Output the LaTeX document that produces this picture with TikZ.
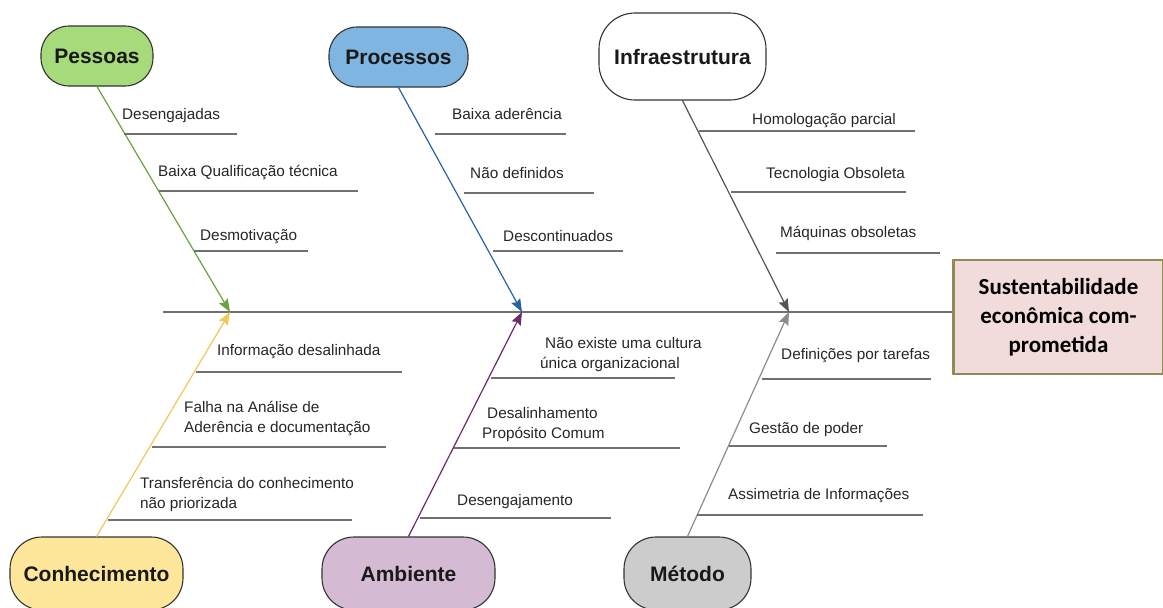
\documentclass[tikz,border=0pt]{standalone}
\usepackage{fontspec}
\setmainfont{Liberation Sans}
\newfontfamily\calib{Carlito}
\usetikzlibrary{arrows.meta}
\definecolor{fpes}{HTML}{A6DA7A}
\definecolor{fpro}{HTML}{7FB5E1}
\definecolor{fcon}{HTML}{FEE79B}
\definecolor{famb}{HTML}{D4BAD3}
\definecolor{fmet}{HTML}{CCCCCC}
\definecolor{feff}{HTML}{F2DCDB}
\definecolor{beff}{HTML}{948A54}
\definecolor{lpes}{HTML}{6AA23E}
\definecolor{lpro}{HTML}{2463A8}
\definecolor{linf}{HTML}{555555}
\definecolor{lcon}{HTML}{EFC75A}
\definecolor{lamb}{HTML}{6B2A6B}
\definecolor{lmet}{HTML}{8C8C8C}
\definecolor{lsub}{HTML}{707070}
\tikzset{
  hdr/.style={draw=black!80, line width=1.1pt, rounded corners=28pt, inner sep=0pt,
    font=\fontsize{21}{25}\selectfont\bfseries, text=black!90},
  bone/.style={line width=1.2pt, -{Stealth[length=13pt,width=10pt,inset=2pt]}},
  subline/.style={draw=lsub, line width=1.3pt},
  lbl/.style={anchor=base west, inner sep=0pt, align=left,
    font=\fontsize{15.3}{20}\selectfont, text=black!85},
  effect/.style={draw=beff, fill=feff, line width=2.2pt, inner sep=0pt,
    minimum width=210pt, minimum height=114pt, align=center,
    font=\calib\fontsize{23}{29}\selectfont\bfseries}
}
\begin{document}
\begin{tikzpicture}[x=1pt,y=-1pt]
\useasboundingbox (0,0) rectangle (1163,608);
\begin{scope}
\clip (0,0) rectangle (1163,608);
% effect
\node[effect] (eff) at (1058.5,317) {Sustentabilidade\\econômica com-\\prometida};
% spine
\coordinate (tail) at (163,312);
\draw[draw=lsub, line width=1.4pt] (tail) -- (tail -| eff.west);
% tips
\coordinate (t1) at (230,312);
\coordinate (t2) at (522,312);
\coordinate (t3) at (789,312);
% heads
\node[hdr, fill=fpes, minimum width=112pt, minimum height=60pt] (pes) at (97,56) {Pessoas};
\node[hdr, fill=fpro, minimum width=139pt, minimum height=60pt] (pro) at (398.5,57) {Processos};
\node[hdr, fill=white, rounded corners=36pt, minimum width=167pt, minimum height=87pt] (inf) at (682.5,56.5) {Infraestrutura};
\node[hdr, fill=fcon, rounded corners=32pt, minimum width=173pt, minimum height=73pt] (con) at (96.5,573.5) {Conhecimento};
\node[hdr, fill=famb, rounded corners=32pt, minimum width=173pt, minimum height=73pt] (amb) at (408.5,573.5) {Ambiente};
\node[hdr, fill=fmet, rounded corners=32pt, minimum width=127pt, minimum height=73pt] (met) at (687.5,573.5) {Método};
% bones
\draw[bone, lpes] (pes.south) -- (t1);
\draw[bone, lpro] (pro.south) -- (t2);
\draw[bone, linf] (inf.south) -- (t3);
\draw[bone, lcon] (con.north) -- (t1);
\draw[bone, lamb] (amb.north) -- (t2);
\draw[bone, lmet] (met.north) -- (t3);
% Pessoas
\node[lbl] (p1) at (122,119) {Desengajadas};
\draw[subline] (124,134) -- (237,134);
\node[lbl] (p2) at (158,176) {Baixa Qualificação técnica};
\draw[subline] (159,191) -- (358,191);
\node[lbl] (p3) at (200,240) {Desmotivação};
\draw[subline] (194,251) -- (308,251);
% Processos
\node[lbl] (r1) at (452,119) {Baixa aderência};
\draw[subline] (435,134) -- (566,134);
\node[lbl] (r2) at (470,178) {Não definidos};
\draw[subline] (464,193) -- (594,193);
\node[lbl] (r3) at (503,241) {Descontinuados};
\draw[subline] (493,251) -- (623,251);
% Infraestrutura
\node[lbl] (i1) at (752,124) {Homologação parcial};
\draw[subline] (699,131) -- (915,131);
\node[lbl] (i2) at (766,178) {Tecnologia Obsoleta};
\draw[subline] (731,192) -- (906,192);
\node[lbl] (i3) at (780,237) {Máquinas obsoletas};
\draw[subline] (776,253) -- (940,253);
% Conhecimento
\node[lbl] (c1) at (217,355) {Informação desalinhada};
\draw[subline] (196,372) -- (402,372);
\node[lbl] (c2) at (184,432) {Falha na Análise de\\Aderência e documentação};
\draw[subline] (152,447) -- (386,447);
\node[lbl] (c3) at (140,508) {Transferência do conhecimento\\não priorizada};
\draw[subline] (108,520) -- (352,520);
% Ambiente
\node[lbl] (a1) at (540,368) {\hspace*{5pt}Não existe uma cultura\\única organizacional};
\draw[subline] (491,378) -- (675,378);
\node[lbl] (a2) at (482,438) {\hspace*{5pt}Desalinhamento\\Propósito Comum};
\draw[subline] (454,448) -- (680,448);
\node[lbl] (a3) at (457,505) {Desengajamento};
\draw[subline] (420,518) -- (611,518);
% Metodo
\node[lbl] (m1) at (781,359) {Definições por tarefas};
\draw[subline] (762,379) -- (931,379);
\node[lbl] (m2) at (749,433) {Gestão de poder};
\draw[subline] (729,446) -- (887,446);
\node[lbl] (m3) at (728,499) {Assimetria de Informações};
\draw[subline] (697,515) -- (923,515);
\end{scope}
\end{tikzpicture}
\end{document}
